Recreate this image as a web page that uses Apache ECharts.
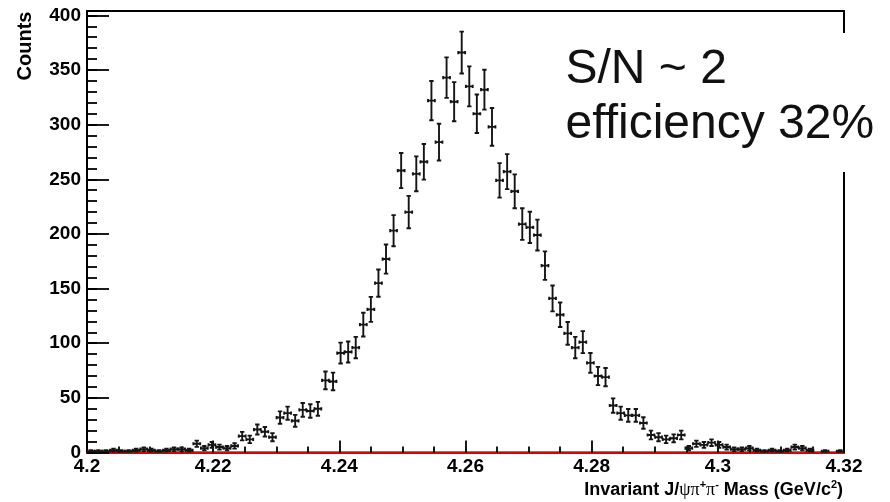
<!DOCTYPE html>
<html><head><meta charset="utf-8">
<script src="https://cdn.jsdelivr.net/npm/echarts@6/dist/echarts.min.js"></script>
<style>html,body{margin:0;padding:0;background:#fff}#c{width:890px;height:502px}</style>
</head><body><div id="c"></div>
<script>
// ---- data ----
const xMin = 4.2, xMax = 4.32, binWidth = 0.0012;
const counts = [
  1,1,1,2,1,1,2,3,2,1,
  2,3,3,2,8,4,7,5,4,6,
  15,12,21,19,14,32,36,29,39,38,
  40,66,65,91,92,96,117,131,155,177,
  203,258,220,255,266,322,284,343,321,366,
  335,310,332,298,249,257,239,209,206,199,
  171,141,126,109,96,101,82,70,69,43,
  36,34,34,27,16,14,12,13,16,4,
  8,7,9,7,5,3,3,4,2,1,
  2,1,2,5,4,2,0,1,0,1
];
const errors = [
  1,1,1,1.41,1,1,1.41,1.73,1.41,1,
  1.41,1.73,1.73,1.41,2.83,2,2.65,2.24,2,2.45,
  3.87,3.46,4.58,4.36,3.74,5.66,6,5.39,6.24,6.16,
  6.32,8.12,8.06,9.54,9.59,9.8,10.82,11.45,12.45,13.3,
  14.25,16.06,14.83,15.97,16.31,17.94,16.85,18.52,17.92,19.13,
  18.3,17.61,18.22,17.26,15.78,16.03,15.46,14.46,14.35,14.11,
  13.08,11.87,11.22,10.44,9.8,10.05,9.06,8.37,8.31,6.56,
  6,5.83,5.83,5.2,4,3.74,3.46,3.61,4,2,
  2.83,2.65,3,2.65,2.24,1.73,1.73,2,1.41,1,
  1.41,1,1.41,2.24,2,1.41,0,1,0,1
];
const xTickLabels = ['4.2','4.22','4.24','4.26','4.28','4.3','4.32'];
const yTickLabels = ['0','50','100','150','200','250','300','350','400'];
const annotationLines = ['S/N ~ 2', 'efficiency 32%'];
const yAxisTitle = 'Counts';

// ---- build ----
const binCenters = counts.map((_, i) => +(xMin + (i + 0.5) * binWidth).toFixed(5));
const seriesData = counts.map((c, i) => [binCenters[i], c, errors[i]]).filter(d => d[1] > 0);

const FONT = "'Liberation Sans', Arial, Helvetica, sans-serif";
const INK = '#151515';

function renderItem(params, api) {
  const x = api.value(0), y = api.value(1), e = api.value(2);
  const c = api.coord([x, y]);
  const top = api.coord([x, y + e]);
  const bot = api.coord([x, Math.max(0, y - e)]);
  const l = api.coord([x - binWidth * 0.45, y]);
  const r = api.coord([x + binWidth * 0.45, y]);
  const style = { stroke: INK, lineWidth: 1.9 };
  const cap = 2.2, hcap = 1.6;
  return {
    type: 'group',
    children: [
      { type: 'line', shape: { x1: c[0], y1: top[1], x2: c[0], y2: bot[1] }, style },
      { type: 'line', shape: { x1: c[0] - cap, y1: top[1], x2: c[0] + cap, y2: top[1] }, style },
      { type: 'line', shape: { x1: c[0] - cap, y1: bot[1], x2: c[0] + cap, y2: bot[1] }, style },
      { type: 'line', shape: { x1: l[0], y1: c[1], x2: r[0], y2: c[1] }, style },
      { type: 'line', shape: { x1: l[0], y1: c[1] - hcap, x2: l[0], y2: c[1] + hcap }, style },
      { type: 'line', shape: { x1: r[0], y1: c[1] - hcap, x2: r[0], y2: c[1] + hcap }, style }
    ]
  };
}

const chart = echarts.init(document.getElementById('c'), null, { renderer: 'canvas' });
chart.setOption({
  animation: false,
  backgroundColor: '#fff',
  grid: { left: 87, right: 46, top: 11, bottom: 49.5, show: true, borderColor: '#000', borderWidth: 2, backgroundColor: 'transparent' },
  xAxis: {
    type: 'value', min: xMin, max: xMax, interval: 0.02,
    axisLine: { show: true, lineStyle: { color: '#e00000', width: 2 } },
    axisTick: { show: true, inside: true, length: 12, lineStyle: { color: '#000', width: 1.8 } },
    minorTick: { show: true, splitNumber: 4, length: 6, lineStyle: { color: '#000', width: 1.8 } },
    splitLine: { show: false },
    axisLabel: {
      margin: 5, color: '#000', fontFamily: FONT, fontWeight: 'bold', fontSize: 19,
      formatter: v => { const k = Math.round((v - xMin) / 0.02); return Math.abs(v - (xMin + k * 0.02)) < 1e-6 ? (xTickLabels[k] || '') : ''; }
    }
  },
  yAxis: [
    {
      type: 'value', min: 0, max: 404, interval: 50,
      axisLine: { show: true, lineStyle: { color: '#000', width: 2 } },
      axisTick: { show: true, inside: true, length: 22, lineStyle: { color: '#000', width: 1.8 } },
      splitLine: { show: false },
      axisLabel: {
        margin: 6, color: '#000', fontFamily: FONT, fontWeight: 'bold', fontSize: 19,
        formatter: v => (v % 50 === 0 && v <= 400) ? yTickLabels[v / 50] : ''
      }
    },
    {
      type: 'value', min: 0, max: 404, interval: 10, position: 'left', offset: 0,
      axisLine: { show: false },
      axisTick: { show: true, inside: true, length: 10, lineStyle: { color: '#000', width: 1.8 } },
      splitLine: { show: false },
      axisLabel: { show: false }
    }
  ],
  series: [{
    type: 'custom',
    renderItem: renderItem,
    data: seriesData,
    clip: true,
    xAxisIndex: 0, yAxisIndex: 0,
    encode: { x: 0, y: 1 },
    z: 5
  }],
  graphic: [
    { type: 'rect', z: 50, shape: { x: 556, y: 33, width: 300, height: 139 }, style: { fill: '#fff' } },
    { type: 'text', z: 51, x: 565.5, y: 70, style: { text: annotationLines[0], fill: '#111', font: "48px " + FONT, align: 'left', verticalAlign: 'middle' } },
    { type: 'text', z: 51, x: 565.5, y: 124.5, style: { text: annotationLines[1], fill: '#111', font: "48px " + FONT, align: 'left', verticalAlign: 'middle' } },
    { type: 'text', z: 51, x: 25, y: 46, rotation: Math.PI / 2, style: { text: yAxisTitle, fill: '#000', font: "bold 20px " + FONT, align: 'center', verticalAlign: 'middle' } },
    { type: 'text', z: 51, x: 843, y: 490.5, style: {
      text: '{b|Invariant J/}{g|ψπ}{s|+}{g|π}{s|-}{b| Mass (GeV/c}{s|2}{b|)}',
      align: 'right', verticalAlign: 'middle',
      rich: {
        b: { fontFamily: FONT, fontWeight: 'bold', fontSize: 18, fill: '#000', lineHeight: 22 },
        g: { fontFamily: "'Liberation Serif', 'DejaVu Serif', serif", fontWeight: 'normal', fontSize: 18, fill: '#000', lineHeight: 22 },
        s: { fontFamily: FONT, fontWeight: 'bold', fontSize: 11, fill: '#000', verticalAlign: 'top', lineHeight: 22, padding: [0, 0, 8, 0] }
      }
    } }
  ]
});
</script>
</body></html>
